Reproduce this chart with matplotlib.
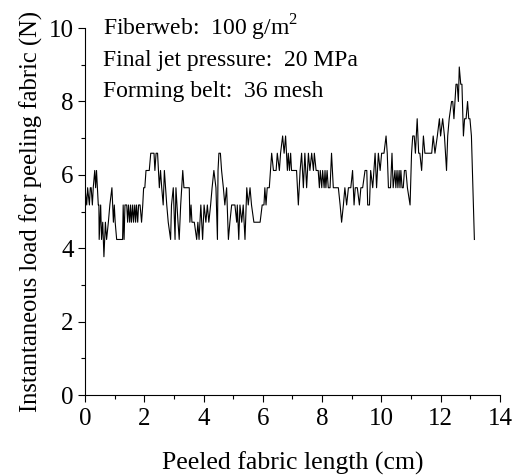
import matplotlib
matplotlib.use('Agg')
import numpy as np
from matplotlib import pyplot as plt
from matplotlib.ticker import MultipleLocator

# peeled length (cm) and load (N)
length_cm = [
    0.00, 0.06, 0.09, 0.15, 0.18, 0.21, 0.25, 0.28, 0.33, 0.36, 0.39, 0.42, 0.45, 0.47, 0.48,
    0.53, 0.56, 0.60, 0.64, 0.69, 0.73, 0.79, 0.84, 0.91, 0.96, 0.99, 1.02, 1.07, 1.27, 1.29,
    1.32, 1.35, 1.41, 1.44, 1.47, 1.51, 1.54, 1.57, 1.61, 1.64, 1.68, 1.71, 1.74, 1.78, 1.81,
    1.86, 1.91, 1.95, 1.98, 2.02, 2.06, 2.17, 2.22, 2.33, 2.36, 2.40, 2.45, 2.51, 2.55, 2.59,
    2.64, 2.68, 2.72, 2.76, 2.81, 2.89, 2.92, 2.98, 3.04, 3.07, 3.14, 3.18, 3.23, 3.30, 3.34,
    3.52, 3.54, 3.58, 3.61, 3.69, 3.77, 3.81, 3.85, 3.88, 3.91, 3.97, 4.02, 4.08, 4.13, 4.18,
    4.24, 4.29, 4.35, 4.42, 4.47, 4.49, 4.52, 4.57, 4.61, 4.67, 4.72, 4.78, 4.84, 4.89, 4.95,
    5.06, 5.12, 5.14, 5.19, 5.23, 5.29, 5.34, 5.40, 5.46, 5.51, 5.57, 5.62, 5.70, 5.91, 5.98,
    6.04, 6.07, 6.11, 6.15, 6.22, 6.30, 6.36, 6.45, 6.49, 6.56, 6.60, 6.67, 6.72, 6.77, 6.83,
    6.86, 6.90, 6.94, 6.97, 7.14, 7.20, 7.26, 7.31, 7.37, 7.42, 7.48, 7.54, 7.59, 7.65, 7.71,
    7.74, 7.80, 7.87, 7.91, 7.94, 7.99, 8.02, 8.07, 8.10, 8.13, 8.17, 8.21, 8.27, 8.32, 8.38,
    8.55, 8.61, 8.66, 8.72, 8.77, 8.83, 8.89, 8.97, 9.03, 9.08, 9.12, 9.19, 9.26, 9.31, 9.37,
    9.45, 9.51, 9.54, 9.60, 9.64, 9.71, 9.79, 9.84, 9.90, 9.96, 10.01, 10.09, 10.16, 10.20, 10.24,
    10.31, 10.36, 10.40, 10.46, 10.49, 10.53, 10.56, 10.60, 10.63, 10.66, 10.70, 10.74, 10.78, 10.83, 10.88,
    10.97, 11.02, 11.06, 11.11, 11.15, 11.21, 11.26, 11.30, 11.36, 11.42, 11.47, 11.70, 11.75, 11.81, 11.89,
    11.96, 12.00, 12.07, 12.13, 12.20, 12.24, 12.29, 12.37, 12.41, 12.45, 12.52, 12.56, 12.60, 12.63, 12.68,
    12.72, 12.77, 12.81, 12.86, 12.91, 12.95, 12.99, 13.04, 13.14,
]
load_N = [
    5.65, 5.18, 5.65, 5.18, 5.65, 5.65, 5.18, 5.65, 6.12, 5.65, 6.12, 5.65, 5.18, 5.18, 4.24,
    5.18, 4.24, 4.71, 3.77, 4.71, 4.24, 4.71, 5.18, 5.65, 4.71, 5.18, 4.71, 4.24, 4.24, 5.18,
    4.24, 5.18, 5.18, 4.71, 5.18, 4.71, 5.18, 4.71, 5.18, 4.71, 5.18, 4.71, 5.18, 4.71, 5.18,
    5.18, 4.71, 5.18, 5.65, 5.65, 6.12, 6.12, 6.59, 6.59, 6.12, 6.59, 6.59, 5.65, 6.12, 5.65,
    5.18, 6.12, 5.65, 5.18, 4.71, 4.24, 5.18, 5.65, 4.24, 5.65, 4.71, 4.24, 5.18, 6.12, 5.65,
    5.65, 4.71, 5.18, 4.71, 4.71, 4.24, 4.71, 4.24, 4.71, 5.18, 4.24, 5.18, 4.71, 5.18, 4.71,
    5.18, 5.65, 6.12, 5.65, 4.24, 6.12, 6.59, 6.59, 6.12, 5.65, 5.18, 5.65, 4.24, 4.71, 5.18,
    5.18, 4.71, 5.18, 4.24, 5.18, 4.71, 5.18, 4.24, 5.65, 5.18, 5.65, 5.18, 4.71, 4.71, 5.18,
    5.18, 5.65, 5.18, 5.65, 5.65, 6.59, 6.12, 6.12, 6.59, 6.12, 6.59, 7.06, 6.59, 7.06, 6.12,
    6.59, 6.12, 6.59, 6.12, 6.12, 5.18, 6.12, 6.59, 5.65, 6.59, 5.65, 6.59, 6.12, 6.59, 6.12,
    6.59, 6.12, 6.12, 5.65, 6.12, 5.65, 6.12, 5.65, 6.12, 5.65, 6.12, 5.65, 5.65, 6.59, 5.65,
    5.65, 5.18, 4.71, 5.18, 5.65, 5.18, 5.65, 5.65, 6.12, 5.18, 5.65, 5.65, 5.18, 5.65, 5.65,
    6.12, 6.12, 5.18, 5.18, 6.12, 5.65, 6.59, 5.65, 6.59, 6.12, 6.59, 6.59, 7.06, 6.59, 5.65,
    5.65, 6.59, 5.65, 6.12, 5.65, 6.12, 5.65, 6.12, 5.65, 6.12, 5.65, 5.65, 6.12, 6.12, 5.65,
    5.18, 6.59, 7.06, 7.06, 6.59, 7.53, 6.59, 6.59, 6.12, 7.06, 6.59, 6.59, 7.06, 6.59, 7.06,
    7.53, 7.06, 7.53, 7.06, 6.12, 7.06, 7.53, 8.00, 8.00, 7.53, 8.47, 8.47, 8.00, 8.94, 8.47,
    8.47, 7.06, 7.53, 7.53, 8.00, 7.53, 7.53, 7.06, 4.24,
]
notes = ['Fiberweb:  100 g/m$^2$', 'Final jet pressure:  20 MPa', 'Forming belt:  36 mesh']

plt.rcParams['font.family'] = ['Liberation Serif', 'DejaVu Serif']
plt.rcParams['mathtext.fontset'] = 'custom'
plt.rcParams['mathtext.rm'] = 'Liberation Serif'

fig = plt.figure(figsize=(5.18, 4.76), dpi=100)
ax = fig.add_axes([0.164, 0.170, 0.801, 0.771])
ax.plot(length_cm, load_N, color='black', lw=0.8)

ax.set_xlim(0, 14)
ax.set_ylim(0, 10)
ax.xaxis.set_major_locator(MultipleLocator(2))
ax.xaxis.set_minor_locator(MultipleLocator(1))
ax.yaxis.set_major_locator(MultipleLocator(2))
ax.yaxis.set_minor_locator(MultipleLocator(1))
ax.tick_params(which='major', direction='out', length=5, width=0.8, labelsize=18, pad=3)
ax.tick_params(axis='x', which='major', pad=4)
ax.tick_params(which='minor', direction='out', length=3, width=0.8)
for s in ['top', 'right']:
    ax.spines[s].set_visible(False)
for s in ['left', 'bottom']:
    ax.spines[s].set_linewidth(0.8)

ax.set_xlabel('Peeled fabric length (cm)', size=18.5, labelpad=16)
ax.set_ylabel('Instantaneous load for peeling fabric (N)', size=17.7, labelpad=4)

for i, t in enumerate(notes):
    ax.text(0.043, 0.981 - i * 0.085, t, transform=ax.transAxes, size=17, va='baseline')

plt.savefig('out.png', dpi=100)
